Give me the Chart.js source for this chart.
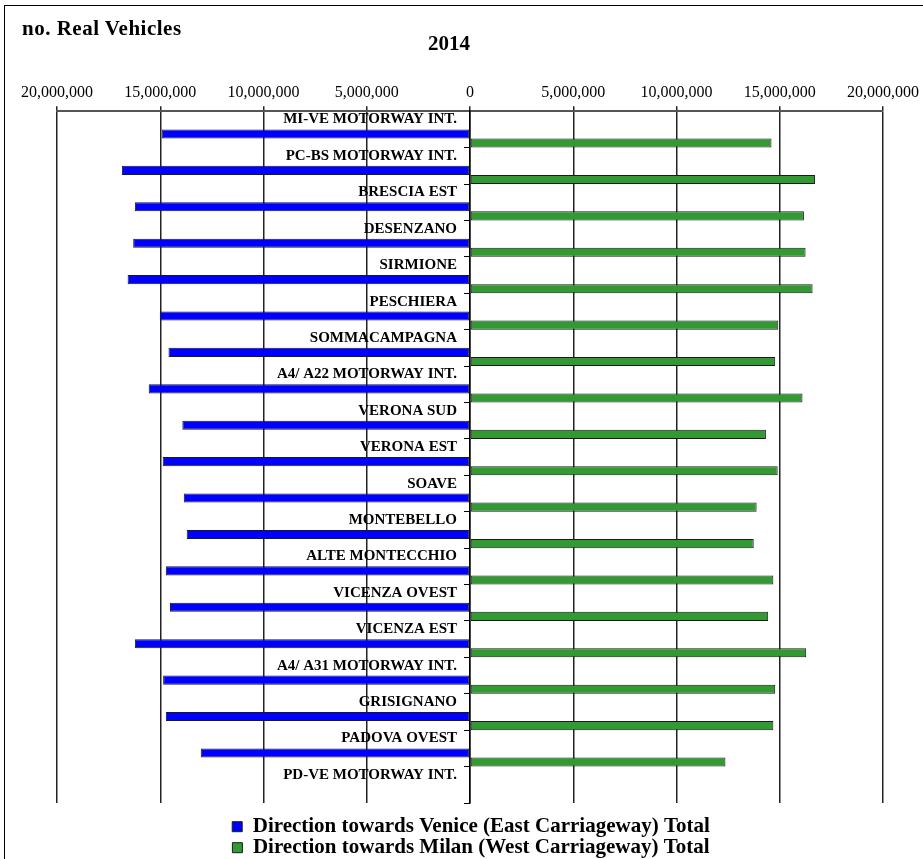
<!DOCTYPE html>
<html lang="en">
<head>
    <meta charset="UTF-8">
    <title>no. Real Vehicles 2014</title>
    <script src="https://cdn.jsdelivr.net/npm/chart.js"></script>
    <style>
        body {
            margin: 0;
            background: #fff;
            overflow: hidden;
        }
        .wrap {
            position: relative;
            width: 923px;
            height: 859px;
        }
        .frame {
            position: absolute;
            left: 4px;
            top: 5px;
            right: -10px;
            bottom: -10px;
            border: 1.5px solid #000;
        }
        .head {
            position: absolute;
            font-family: "Liberation Serif", serif;
            font-weight: bold;
            color: #000;
            white-space: nowrap;
        }
        #unit { left: 22px; top: 16px; font-size: 21px; letter-spacing: 0.5px; }
        #year { left: 428px; top: 31px; font-size: 21px; }
        canvas { position: absolute; left: 0; top: 0; }
    </style>
</head>
<body>
<div class="wrap">
    <div class="frame"></div>
    <canvas id="chart" width="923" height="859"></canvas>
    <div class="head" id="unit">no. Real Vehicles</div>
    <div class="head" id="year">2014</div>
</div>

<script>
// toll stations, west to east
const stations = [
    'MI-VE MOTORWAY INT.', 'PC-BS MOTORWAY INT.', 'BRESCIA EST', 'DESENZANO',
    'SIRMIONE', 'PESCHIERA', 'SOMMACAMPAGNA', 'A4/ A22 MOTORWAY INT.',
    'VERONA SUD', 'VERONA EST', 'SOAVE', 'MONTEBELLO', 'ALTE MONTECCHIO',
    'VICENZA OVEST', 'VICENZA EST', 'A4/ A31 MOTORWAY INT.', 'GRISIGNANO',
    'PADOVA OVEST', 'PD-VE MOTORWAY INT.'
];

// vehicles per year (no value for the last junction)
const towardsVenice = [
    14930000, 16860000, 16230000, 16310000, 16580000, 15020000, 14600000, 15560000,
    13930000, 14880000, 13860000, 13720000, 14730000, 14530000, 16230000, 14860000,
    14730000, 13040000, null
];
const towardsMilan = [
    14600000, 16710000, 16170000, 16250000, 16590000, 14930000, 14780000, 16100000,
    14330000, 14900000, 13880000, 13740000, 14690000, 14440000, 16280000, 14780000,
    14690000, 12370000, null
];

const axisTicks = [-20000000, -15000000, -10000000, -5000000, 0, 5000000, 10000000, 15000000, 20000000];

const serif = '"Liberation Serif", "Times New Roman", serif';

// east carriageway goes to the left of zero
const veniceData = towardsVenice.map((v, i) => ({ x: v === null ? null : -v, y: i }));
const milanData = towardsMilan.map((v, i) => ({ x: v, y: i }));

// rows: bars sit in the lower half, the station name in the upper half
const rowMin = -0.75;
const rowMax = stations.length - 0.75;
const rowTicks = (scale) => {
    scale.ticks = stations.map((s, i) => ({ value: i + 0.25 }));
};

new Chart(document.getElementById('chart'), {
    type: 'bar',
    data: {
        datasets: [{
            label: 'Direction towards Venice (East Carriageway) Total',
            data: veniceData,
            backgroundColor: '#0000ff',
            borderColor: '#1a1a1a',
            borderWidth: 1,
            borderSkipped: false
        }, {
            label: 'Direction towards Milan (West Carriageway) Total',
            data: milanData,
            backgroundColor: '#339933',
            borderColor: '#1a1a1a',
            borderWidth: 1,
            borderSkipped: false
        }]
    },
    options: {
        indexAxis: 'y',
        responsive: false,
        animation: false,
        categoryPercentage: 0.5,
        barPercentage: 1.0,
        layout: {
            padding: { top: 79, left: 57, right: 38, bottom: 0 }
        },
        scales: {
            x: {
                position: 'top',
                min: -20000000,
                max: 20000000,
                afterBuildTicks: (scale) => {
                    scale.ticks = axisTicks.map(v => ({ value: v }));
                },
                ticks: {
                    color: '#000',
                    padding: 4,
                    font: { family: serif, size: 16 },
                    callback: (value) => Math.abs(value).toLocaleString('en-US')
                },
                grid: {
                    color: '#222',
                    lineWidth: 1.5,
                    tickLength: 5
                },
                border: { color: '#555', width: 2 }
            },
            y: {
                type: 'linear',
                position: { x: 0 },
                reverse: true,
                offset: false,
                min: rowMin,
                max: rowMax,
                afterBuildTicks: rowTicks,
                ticks: { display: false },
                grid: {
                    offset: false,
                    drawOnChartArea: false,
                    color: '#000',
                    lineWidth: 1,
                    tickLength: 5
                },
                border: { color: '#000', width: 1.5 }
            },
            // station names, set a little left of the zero line
            names: {
                type: 'linear',
                axis: 'y',
                position: { x: -630000 },
                reverse: true,
                offset: false,
                min: rowMin,
                max: rowMax,
                afterBuildTicks: rowTicks,
                ticks: {
                    autoSkip: false,
                    color: '#000',
                    labelOffset: -28,
                    font: { family: serif, size: 15, weight: 'bold' },
                    callback: (value) => stations[Math.round(value - 0.25)]
                },
                grid: { display: false, drawTicks: false },
                border: { display: false }
            }
        },
        plugins: {
            legend: {
                position: 'bottom',
                maxHeight: 56,
                title: { display: true, text: ' ', font: { size: 6 }, padding: 3 },
                labels: {
                    color: '#000',
                    boxWidth: 10,
                    boxHeight: 10,
                    padding: 0,
                    font: { family: serif, size: 21, weight: 'bold' }
                }
            },
            tooltip: { enabled: false }
        }
    }
});
</script>
</body>
</html>
